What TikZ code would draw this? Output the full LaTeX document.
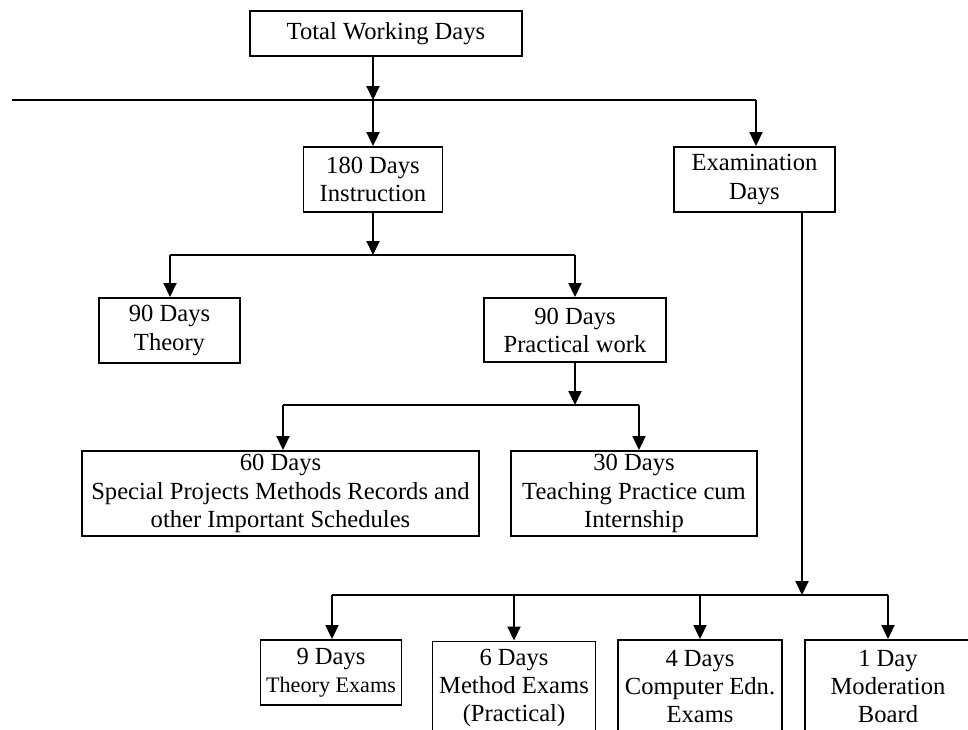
\documentclass[tikz,border=0pt]{standalone}
\usepackage{fontspec}
\setmainfont{Liberation Serif}
\usetikzlibrary{arrows.meta}
\begin{document}
\begin{tikzpicture}[x=0.02cm, y=-0.02cm, line width=1.1pt,
  bx/.style={draw, rectangle, inner sep=0pt, align=center, font=\fontsize{14}{16}\selectfont},
  arr/.style={-{Triangle[length=0.28cm, width=0.26cm]}}]
\useasboundingbox (0,0) rectangle (968,730);
\clip (0,0) rectangle (968,730);
\node[bx, minimum width=5.44cm, minimum height=0.9cm] (day0) at (386,33.5){Total Working Days};
\node[bx, minimum width=2.78cm, minimum height=1.3cm] (day1) at (373,179.5){180 Days\\Instruction};
\node[bx, minimum width=3.22cm, minimum height=1.3cm] (day2) at (754.5,179.5){Examination\\Days};
\node[bx, minimum width=2.82cm, minimum height=1.3cm] (day3) at (169.5,330.5){90 Days\\Theory};
\node[bx, minimum width=3.64cm, minimum height=1.28cm] (day4) at (575,330){90 Days\\Practical work};
\node[bx, minimum width=7.94cm, minimum height=1.7cm] (day5) at (280.5,493.5){60 Days\\Special Projects Methods Records and\\other Important Schedules};
\node[bx, minimum width=4.92cm, minimum height=1.7cm] (day6) at (634,493.5){30 Days\\Teaching Practice cum\\Internship};
\node[bx, minimum width=2.82cm, minimum height=1.3cm] (day7) at (331,672.5){9 Days\\{\fontsize{12.6}{15}\selectfont Theory Exams}};
\node[bx, minimum width=3.26cm, minimum height=1.86cm] (day8) at (514,688){6 Days\\Method Exams\\(Practical)};
\node[bx, minimum width=3.28cm, minimum height=1.86cm] (day9) at (700,686.5){4 Days\\Computer Edn.\\Exams};
\node[bx, minimum width=3.32cm, minimum height=1.86cm] (day10) at (888,686.5){1 Day\\Moderation\\Board};
\coordinate (j0) at (373,100);
\coordinate (j0l) at (12,100);
\coordinate (j0r) at (756,100);
\coordinate (j1) at (373,255);
\coordinate (j1l) at (170,255);
\coordinate (j1r) at (575,255);
\coordinate (j2) at (575,405);
\coordinate (j2l) at (283,405);
\coordinate (j2r) at (639,405);
\coordinate (j3) at (802,595);
\coordinate (j3l) at (332,595);
\coordinate (j3r) at (888,595);
\draw[arr](day0.south -| j0) -- (j0);
\draw[](j0l) -- (j0r);
\draw[arr](j0) -- (j0 |- day1.north);
\draw[arr](j0r) -- (j0r |- day2.north);
\draw[arr](day1.south -| j1) -- (j1);
\draw[](j1l) -- (j1r);
\draw[arr](j1l) -- (j1l |- day3.north);
\draw[arr](j1r) -- (j1r |- day4.north);
\draw[arr](day4.south -| j2) -- (j2);
\draw[](j2l) -- (j2r);
\draw[arr](j2l) -- (j2l |- day5.north);
\draw[arr](j2r) -- (j2r |- day6.north);
\draw[arr](day2.south -| j3) -- (j3);
\draw[](j3l) -- (j3r);
\draw[arr](j3l) -- (j3l |- day7.north);
\draw[arr](day8.north |- j3) -- (day8.north);
\draw[arr](day9.north |- j3) -- (day9.north);
\draw[arr](j3r) -- (j3r |- day10.north);
\end{tikzpicture}
\end{document}
